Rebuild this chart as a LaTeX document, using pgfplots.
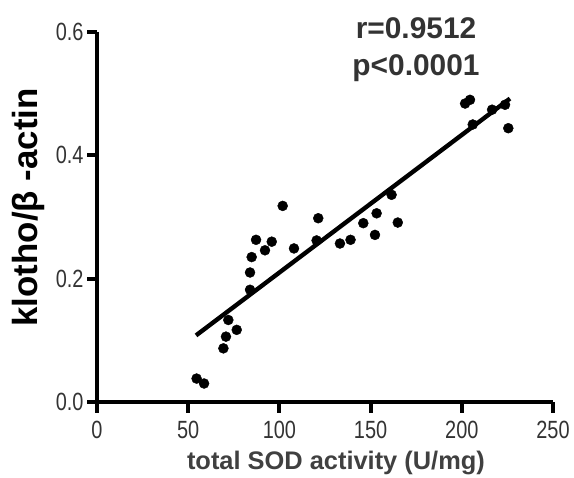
\documentclass[border=0pt]{standalone}
\usepackage{fontspec}
\setmainfont{Liberation Sans}
\usepackage{pgfplots}
\pgfplotsset{compat=1.18}
\pgfkeys{/pgf/number format/assume math mode=true}

\begin{document}
\begin{tikzpicture}
\begin{axis}[
  axis x line=bottom,
  axis y line=left,
  scale only axis,
  width=456bp, height=370bp,
  xmin=0, xmax=250, ymin=0, ymax=0.6,
  axis line style={-},
  xtick={0,50,100,150,200,250},
  ytick={0,0.2,0.4,0.6},
  tick align=outside,
  major tick length=10bp,
  xticklabel={\scalebox{1}[1.25]{\pgfmathprintnumber{\tick}}},
  yticklabel={\scalebox{1}[1.25]{\pgfmathprintnumber[fixed,fixed zerofill,precision=1]{\tick}}},
  tick label style={font=\fontsize{20}{20}\selectfont, text=black!80},
  xticklabel style={yshift=-6bp},
  xlabel={\textbf{total SOD activity (U/mg)}},
  ylabel={\textbf{klotho/β -actin}},
  xlabel style={font=\fontsize{25.5}{25.5}\selectfont, text=black!75,
    at={(axis description cs:0.524,-0.165)}, anchor=center},
  ylabel style={font=\fontsize{35}{35}\selectfont,
    at={(axis description cs:-0.151,0.526)}, anchor=center},
  clip=false,
]
% axis lines and ticks, drawn heavy
\addplot[black, line width=4.4pt, line join=miter] coordinates {(0,0.6) (0,0) (250,0)};
\addplot[black, line width=4pt] coordinates {(0,0) (0,-0.0175)};
\addplot[black, line width=4pt] coordinates {(50,0) (50,-0.0175)};
\addplot[black, line width=4pt] coordinates {(100,0) (100,-0.0175)};
\addplot[black, line width=4pt] coordinates {(150,0) (150,-0.0175)};
\addplot[black, line width=4pt] coordinates {(200,0) (200,-0.0175)};
\addplot[black, line width=4pt] coordinates {(250,0) (250,-0.0175)};
\addplot[black, line width=4pt] coordinates {(0,0) (-5.6,0)};
\addplot[black, line width=4pt] coordinates {(0,0.2) (-5.6,0.2)};
\addplot[black, line width=4pt] coordinates {(0,0.4) (-5.6,0.4)};
\addplot[black, line width=4pt] coordinates {(0,0.6) (-5.6,0.6)};
% data
\addplot[only marks, mark=*, mark size=5bp, black] coordinates {
  (54.6,0.038) (58.7,0.030)
  (69.3,0.087) (70.7,0.106) (72.0,0.133) (76.6,0.117)
  (83.9,0.182) (83.9,0.210) (84.8,0.235) (87.2,0.263)
  (92.1,0.246) (95.8,0.260) (101.8,0.318) (108.0,0.249)
  (120.4,0.262) (121.3,0.298) (133.2,0.257) (139.0,0.263)
  (146.0,0.290) (152.4,0.271) (153.3,0.306) (161.5,0.336)
  (164.9,0.291) (201.8,0.484) (204.5,0.490) (206.0,0.450)
  (216.6,0.474) (223.7,0.482) (225.5,0.444)
};
\addplot[black, line width=4.4pt] coordinates {(54.3,0.108) (226.4,0.492)};
\node[font=\bfseries\fontsize{30}{30}\selectfont, text=black!80, anchor=base]
  at (axis cs:174.9,0.590) {r=0.9512};
\node[font=\bfseries\fontsize{30}{30}\selectfont, text=black!80, anchor=base]
  at (axis cs:174.9,0.530) {p<0.0001};
\end{axis}
\pgfresetboundingbox
\path[use as bounding box] (-97bp,-76bp) rectangle (477bp,402bp);
\end{tikzpicture}
\end{document}
